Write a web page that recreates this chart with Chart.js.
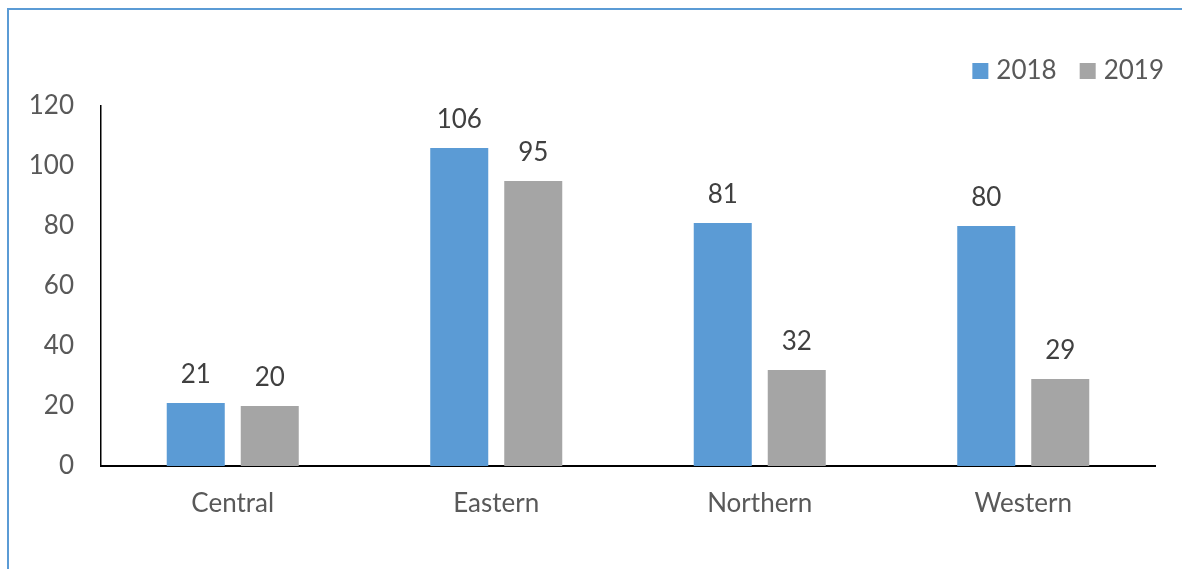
<!DOCTYPE html>
<html>
<head>
<meta charset="utf-8">
<script src="https://cdn.jsdelivr.net/npm/chart.js@4.4.0/dist/chart.umd.min.js"></script>
<style>
    html, body { margin: 0; padding: 0; background: #fff; }
    #frame {
        position: absolute; left: 7px; top: 8px; right: 0; bottom: 0;
        border-top: 2px solid #5b9bd5;
        border-left: 2px solid #5b9bd5;
    }
    #wrap { position: absolute; left: 0; top: 0; width: 1182px; height: 569px; }
</style>
</head>
<body>
<div id="frame"></div>
<div id="wrap"><canvas id="regionChart" width="1182" height="569"></canvas></div>
<script>
// Regions and yearly counts
const regions = ['Central', 'Eastern', 'Northern', 'Western'];
const seriesYears = ['2018', '2019'];
const values2018 = [21, 106, 81, 80];
const values2019 = [20, 95, 32, 29];
const yTicks = [0, 20, 40, 60, 80, 100, 120];

const FONT = 'Lato, "Open Sans", sans-serif';
const FONT_SIZE = 26;
const BLUE = '#5b9bd5';
const GRAY = '#a5a5a5';

// Value labels above each bar
const barLabels = {
    id: 'barLabels',
    afterDatasetsDraw(chart) {
        const ctx = chart.ctx;
        ctx.save();
        ctx.font = FONT_SIZE + 'px ' + FONT;
        ctx.fillStyle = '#404040';
        ctx.textAlign = 'center';
        ctx.textBaseline = 'middle';
        chart.data.datasets.forEach((ds, i) => {
            chart.getDatasetMeta(i).data.forEach((bar, j) => {
                ctx.fillText(String(ds.data[j]), bar.x, bar.y - 28);
            });
        });
        ctx.restore();
    }
};

// Legend in the top right corner, drawn right to left
const cornerLegend = {
    id: 'cornerLegend',
    afterDraw(chart) {
        const ctx = chart.ctx;
        ctx.save();
        ctx.font = FONT_SIZE + 'px ' + FONT;
        ctx.textBaseline = 'middle';
        ctx.textAlign = 'left';
        let x = 1164;
        const y = 71;
        const items = chart.data.datasets.slice().reverse();
        items.forEach(ds => {
            const w = ctx.measureText(ds.label).width;
            x -= w;
            ctx.fillStyle = '#595959';
            ctx.fillText(ds.label, x, y);
            x -= 8 + 16;
            ctx.fillStyle = ds.backgroundColor;
            ctx.fillRect(x, y - 8, 16, 16);
            x -= 23;
        });
        ctx.restore();
    }
};

new Chart(document.getElementById('regionChart'), {
    type: 'bar',
    data: {
        labels: regions,
        datasets: [
            { label: seriesYears[0], data: values2018, backgroundColor: BLUE },
            { label: seriesYears[1], data: values2019, backgroundColor: GRAY }
        ]
    },
    options: {
        responsive: false,
        animation: false,
        devicePixelRatio: 1,
        categoryPercentage: 0.5617,
        barPercentage: 0.784,
        layout: { padding: { top: 106, right: 27, left: 0, bottom: 0 } },
        plugins: {
            legend: { display: false },
            tooltip: { enabled: false }
        },
        scales: {
            x: {
                grid: { display: false, drawTicks: false },
                border: { display: true, color: '#000', width: 2 },
                ticks: {
                    color: '#595959',
                    padding: 22,
                    font: { family: FONT, size: FONT_SIZE }
                },
                afterFit(scale) { scale.height = 103; }
            },
            y: {
                min: 0,
                max: 120,
                grid: { display: false, drawTicks: false },
                border: { display: true, color: '#000', width: 1.5 },
                afterBuildTicks(scale) {
                    scale.ticks = yTicks.map(v => ({ value: v }));
                },
                ticks: {
                    color: '#595959',
                    padding: 27,
                    font: { family: FONT, size: FONT_SIZE }
                },
                afterFit(scale) { scale.width = 101; }
            }
        }
    },
    plugins: [barLabels, cornerLegend]
});
</script>
</body>
</html>
